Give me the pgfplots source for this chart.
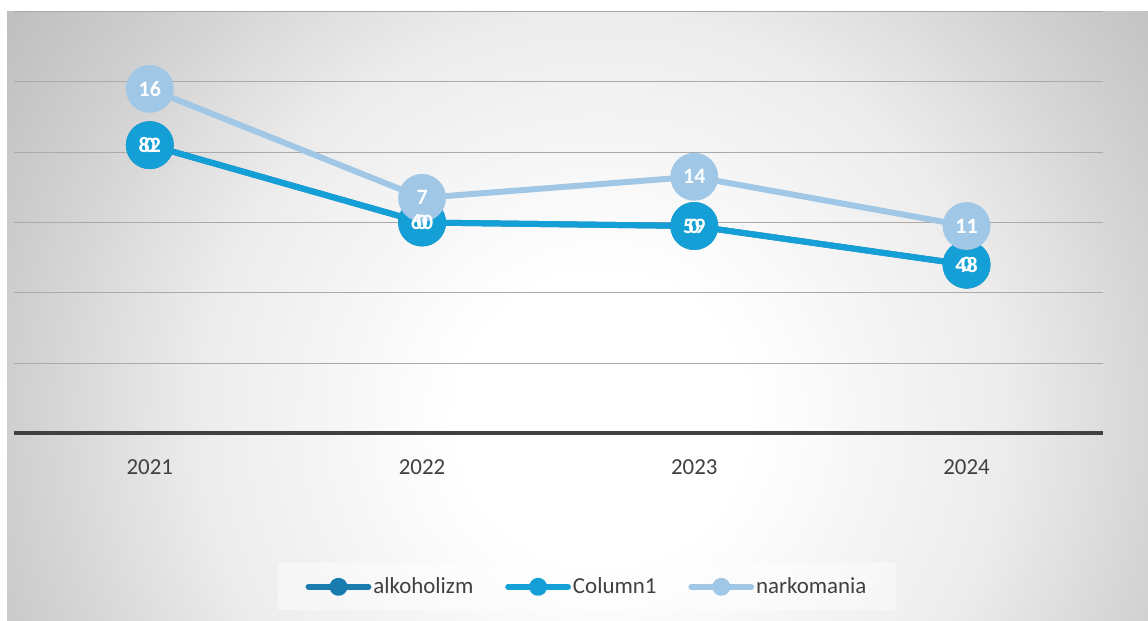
\documentclass[border=0pt]{standalone}
\usepackage{pgfplots}
\usepackage{pgfplotstable}
\pgfplotsset{compat=1.18}
\usepackage{fontspec}
\setmainfont{Carlito}

\definecolor{alk}{RGB}{26,124,174}
\definecolor{col1}{RGB}{20,160,214}
\definecolor{nark}{RGB}{160,199,230}
\definecolor{txt}{RGB}{64,64,64}
\definecolor{gridc}{RGB}{170,170,170}
\definecolor{axisc}{RGB}{64,64,64}
\definecolor{bgA}{RGB}{236,236,236}
\definecolor{bgB}{RGB}{207,207,207}
\definecolor{bgC}{RGB}{190,190,190}

% pgf maps the 25bp radius to the path's bounding box
\pgfdeclareradialshading{bgshade}{\pgfpointorigin}{color(0bp)=(white); color(5bp)=(white); color(14bp)=(bgA); color(20.5bp)=(bgB); color(25bp)=(bgC); color(50bp)=(bgC)}

% stacked line chart: alkoholizm, Column1 (zeros), narkomania
\pgfplotstableread{
x alk col nark
0 82  0  16
1 60  0  7
2 59  0  14
3 48  0  11
}\data

\pgfplotsset{
  serie/.style={#1, line width=3pt, line join=round,
      mark=*, mark size=10.5pt, mark options={solid, fill=#1, draw=#1},
      legend image code/.code={\draw[#1, line width=3pt, line cap=round] (0pt,0pt) -- (30pt,0pt); \fill[#1] (15pt,0pt) circle (3pt);}},
  lbl/.style={draw=none, mark=none, forget plot, point meta=explicit,
      nodes near coords={\pgfmathprintnumber{\pgfplotspointmeta}},
      nodes near coords align={center},
      every node near coord/.append style={anchor=center, text=white,
          font=\bfseries\fontsize{11}{13}\selectfont}},
}

\begin{document}
\begin{tikzpicture}
\fill[white] (0pt,0pt) rectangle (574pt,311.5pt);
\begin{scope}
  \clip (1.5pt,0pt) rectangle (574pt,305.5pt);
  \shade[shading=bgshade] (300pt,101.5pt) circle (362.5pt);
\end{scope}
\begin{axis}[
    at={(4.75pt,94pt)}, anchor=south west, scale only axis,
    width=546.5pt, height=211.7pt,
    xmin=-0.5, xmax=3.5, ymin=0, ymax=120,
    axis line style={draw=none},
    xtick={0,1,2,3}, xticklabels={2021,2022,2023,2024},
    ytick={20,40,60,80,100,120}, yticklabels={},
    major tick length=0pt,
    ymajorgrids, grid style={color=gridc, line width=0.6pt},
    extra y ticks={0}, extra y tick labels={},
    extra y tick style={grid style={line width=2pt, color=axisc}},
    xticklabel style={font=\fontsize{11.5}{13}\selectfont, text=txt, yshift=-9.5pt},
    /pgf/number format/assume math mode=true,
    legend columns=3,
    legend style={at={(0.5265,-0.3637)}, anchor=center, draw=none,
        fill=white, fill opacity=0.45, text opacity=1,
        font=\fontsize{11.5}{13}\selectfont, text=txt,
        inner xsep=14pt, inner ysep=5pt,
        nodes={inner xsep=1pt},
        /tikz/every even column/.append style={column sep=15pt}},
]
% lines and markers, stacked
\addplot[serie=alk] table[x=x, y=alk] {\data};
\addlegendentry{alkoholizm}
\addplot[serie=col1] table[x=x, y expr=\thisrow{alk}+\thisrow{col}] {\data};
\addlegendentry{Column1}
\addplot[serie=nark] table[x=x, y expr=\thisrow{alk}+\thisrow{col}+\thisrow{nark}] {\data};
\addlegendentry{narkomania}
% data labels on top
\addplot[lbl] table[x=x, y=alk, meta=alk] {\data};
\addplot[lbl] table[x=x, y expr=\thisrow{alk}+\thisrow{col}, meta=col] {\data};
\addplot[lbl] table[x=x, y expr=\thisrow{alk}+\thisrow{col}+\thisrow{nark}, meta=nark] {\data};
\end{axis}
\end{tikzpicture}
\end{document}
